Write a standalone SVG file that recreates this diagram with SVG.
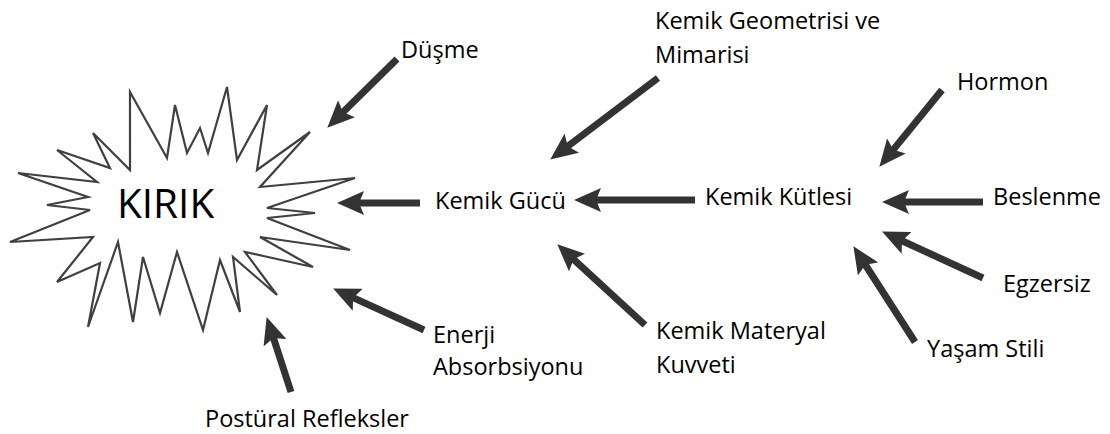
<svg xmlns="http://www.w3.org/2000/svg" width="1110" height="434" viewBox="0 0 1110 434">
  <defs>
    <style>
      .lbl { font-family: "Open Sans", "Noto Sans", sans-serif; font-size: 23.5px; fill: #000; }
      .big { font-family: "Open Sans", "Noto Sans", sans-serif; font-size: 40.5px; fill: #000; }
      .arr { stroke: #333; stroke-width: 7; fill: none; marker-end: url(#ah); }
      .star { fill: #fff; stroke: #404040; stroke-width: 2.2; stroke-linejoin: miter; }
    </style>
    <marker id="ah" markerUnits="userSpaceOnUse" markerWidth="27" markerHeight="24" refX="10" refY="12" orient="auto">
      <path d="M0,0 L27,12 L0,24 L5,12 z" fill="#333"/>
    </marker>
  </defs>
  <rect width="1110" height="434" fill="#fff"/>

  <g id="kirik">
    <polygon class="star" points="57,150 110,168 93,133 130,170 130,92 167,158 175,105 187,153 200,128 208,153 227,87 237,160 267,105 257,170 310,132 260,187 355,178 267,208 315,213 267,218 350,250 260,237 313,267 245,252 277,295 233,257 240,312 220,260 203,330 177,252 160,313 143,257 133,322 118,242 88,327 100,263 57,282 93,237 10,242 90,210 47,205 88,197 18,173 97,182"/>
    <text class="big" x="117" y="218">KIRIK</text>
  </g>
  <g id="dusme"><text class="lbl" x="401" y="58">Düşme</text></g>
  <g id="geometri"><text class="lbl" x="655" y="29">Kemik Geometrisi ve</text><text class="lbl" x="655" y="63">Mimarisi</text></g>
  <g id="gucu"><text class="lbl" x="435" y="209">Kemik Gücü</text></g>
  <g id="kutle"><text class="lbl" x="705" y="205">Kemik Kütlesi</text></g>
  <g id="materyal"><text class="lbl" x="656" y="339">Kemik Materyal</text><text class="lbl" x="656" y="373">Kuvveti</text></g>
  <g id="enerji"><text class="lbl" x="433" y="343">Enerji</text><text class="lbl" x="433" y="375">Absorbsiyonu</text></g>
  <g id="postural"><text class="lbl" x="205" y="427">Postüral Refleksler</text></g>
  <g id="hormon"><text class="lbl" x="957" y="90">Hormon</text></g>
  <g id="beslenme"><text class="lbl" x="993" y="205">Beslenme</text></g>
  <g id="egzersiz"><text class="lbl" x="1003" y="292">Egzersiz</text></g>
  <g id="yasam"><text class="lbl" x="927" y="357">Yaşam Stili</text></g>

  <g id="connectors">
    <line class="arr" x1="397" y1="59" x2="339.4" y2="115.8"/>
    <line class="arr" x1="658" y1="78" x2="563.8" y2="149.3"/>
    <line class="arr" x1="420" y1="203" x2="354" y2="203"/>
    <line class="arr" x1="695" y1="200" x2="591" y2="200"/>
    <line class="arr" x1="645" y1="325" x2="569.8" y2="255.8"/>
    <line class="arr" x1="424" y1="330" x2="348.6" y2="295.6"/>
    <line class="arr" x1="291" y1="392" x2="271.9" y2="333.2"/>
    <line class="arr" x1="942" y1="90" x2="890.1" y2="153.6"/>
    <line class="arr" x1="983" y1="202" x2="899" y2="202"/>
    <line class="arr" x1="983" y1="278" x2="897.5" y2="238.7"/>
    <line class="arr" x1="915" y1="342" x2="862.6" y2="260.5"/>
  </g>
</svg>
